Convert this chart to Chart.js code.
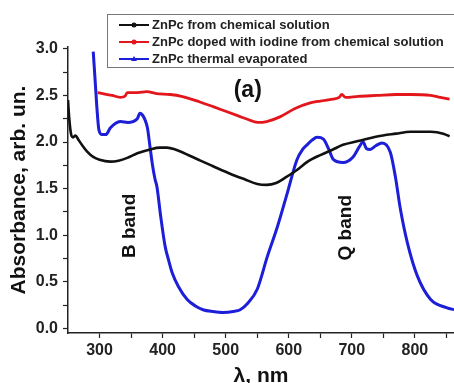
<!DOCTYPE html>
<html>
<head>
<meta charset="utf-8">
<script src="https://cdn.jsdelivr.net/npm/chart.js@4/dist/chart.umd.min.js"></script>
<style>
    html, body { margin: 0; padding: 0; background: #fff; }
    #wrap { width: 454px; height: 383px; position: relative; }
</style>
</head>
<body>
<div id="wrap"><canvas id="chart"></canvas></div>
<script>
// Series: wavelength (nm) and absorbance
const blackWl  = [250, 252, 255, 258, 262, 266, 272, 280, 290, 300, 317, 330, 344, 360, 380, 395, 407, 420, 444, 460, 480, 507, 530, 550, 565, 580, 595, 613, 630, 650, 670, 686, 710, 740, 770, 793, 825, 845, 855];
const blackAbs = [2.45, 2.25, 2.08, 2.05, 2.07, 2.03, 1.97, 1.9, 1.84, 1.81, 1.79, 1.80, 1.83, 1.88, 1.92, 1.94, 1.94, 1.92, 1.85, 1.80, 1.74, 1.66, 1.60, 1.55, 1.54, 1.56, 1.62, 1.70, 1.79, 1.86, 1.92, 1.97, 2.01, 2.06, 2.09, 2.11, 2.11, 2.09, 2.06];

const redWl  = [297, 305, 320, 333, 340, 344, 360, 375, 390, 412, 430, 459, 480, 500, 520, 540, 551, 565, 586, 610, 634, 650, 670, 680, 684, 690, 710, 740, 770, 793, 825, 840, 855];
const redAbs = [2.53, 2.52, 2.50, 2.48, 2.49, 2.53, 2.53, 2.54, 2.52, 2.51, 2.49, 2.43, 2.38, 2.33, 2.28, 2.23, 2.21, 2.22, 2.27, 2.36, 2.42, 2.44, 2.46, 2.48, 2.51, 2.48, 2.49, 2.50, 2.51, 2.51, 2.50, 2.48, 2.46];

const blueWl  = [290, 294, 296, 299, 304, 310, 317, 325, 333, 345, 353, 360, 364, 368, 372, 376, 380, 384, 388, 391, 397, 404, 410, 415, 425, 439, 452, 464, 480, 496, 512, 523, 535, 550, 566, 582, 598, 613, 622, 629, 637, 645, 655, 663, 671, 686, 702, 712, 718, 723, 729, 738, 748, 761, 769, 777, 788, 804, 825, 851, 862];
const blueAbs = [2.97, 2.56, 2.35, 2.13, 2.08, 2.08, 2.15, 2.2, 2.22, 2.21, 2.22, 2.25, 2.31, 2.29, 2.24, 2.15, 1.95, 1.75, 1.6, 1.52, 1.2, 0.88, 0.72, 0.6, 0.45, 0.31, 0.24, 0.2, 0.18, 0.17, 0.18, 0.2, 0.27, 0.42, 0.77, 1.09, 1.46, 1.81, 1.92, 1.97, 2.02, 2.05, 2.03, 1.93, 1.81, 1.78, 1.84, 1.95, 2.0, 1.93, 1.92, 1.96, 1.99, 1.89, 1.63, 1.28, 0.92, 0.56, 0.31, 0.22, 0.20];

const seriesNames = [
    'ZnPc from chemical solution',
    'ZnPc doped with iodine from chemical solution',
    'ZnPc thermal evaporated',
];
const seriesColors = ['#111111', '#e3161c', '#1c1ed8'];

const xTicks = [300, 350, 400, 450, 500, 550, 600, 650, 700, 750, 800, 850];
const yTicks = [0, 0.25, 0.5, 0.75, 1, 1.25, 1.5, 1.75, 2, 2.25, 2.5, 2.75, 3];

// Text labels placed in data coordinates: [text, wavelength, absorbance, rotated]
const notes = [
    ['(a)', 535, 2.55, false],
    ['B band', 348, 1.10, true],
    ['Q band', 691, 1.08, true],
];

const FONT = "'Liberation Sans', Arial, sans-serif";

function pairs(xs, ys) {
    return xs.map((x, i) => ({ x: x, y: ys[i] }));
}

// Legend box drawn inside the plot, top right (runs off the canvas like the original)
const boxLegend = {
    id: 'boxLegend',
    afterDraw(chart) {
        const ctx = chart.ctx;
        ctx.save();
        ctx.fillStyle = '#fff';
        ctx.fillRect(107, 14, 360, 53);
        ctx.strokeStyle = '#777';
        ctx.lineWidth = 1;
        ctx.strokeRect(107.5, 14.5, 360, 53);
        ctx.font = 'bold 13px ' + FONT;
        ctx.textBaseline = 'middle';
        chart.data.datasets.forEach((ds, i) => {
            const y = 25 + i * 17;
            ctx.strokeStyle = ds.borderColor;
            ctx.fillStyle = ds.borderColor;
            ctx.lineWidth = 2;
            ctx.beginPath();
            ctx.moveTo(119, y);
            ctx.lineTo(149, y);
            ctx.stroke();
            ctx.beginPath();
            if (i === 2) {
                ctx.moveTo(134, y - 3);
                ctx.lineTo(137, y + 2);
                ctx.lineTo(131, y + 2);
                ctx.closePath();
            } else {
                ctx.arc(134, y, 2.5, 0, Math.PI * 2);
            }
            ctx.fill();
            ctx.fillStyle = '#222';
            ctx.fillText(ds.label, 152, y + 0.5);
        });
        ctx.restore();
    }
};

const notesPlugin = {
    id: 'notes',
    afterDatasetsDraw(chart) {
        const ctx = chart.ctx;
        const xs = chart.scales.x, ys = chart.scales.y;
        ctx.save();
        ctx.fillStyle = '#111';
        ctx.textAlign = 'center';
        ctx.textBaseline = 'middle';
        notes.forEach(([text, wl, ab, rot]) => {
            const px = xs.getPixelForValue(wl);
            const py = ys.getPixelForValue(ab);
            ctx.save();
            ctx.translate(px, py);
            if (rot) {
                ctx.rotate(-Math.PI / 2);
                ctx.font = 'bold 19px ' + FONT;
            } else {
                ctx.font = 'bold 23px ' + FONT;
            }
            ctx.fillText(text, 0, 0);
            ctx.restore();
        });
        ctx.restore();
    }
};

const datasets = [
    { label: seriesNames[0], data: pairs(blackWl, blackAbs), borderColor: seriesColors[0], borderWidth: 2.6 },
    { label: seriesNames[1], data: pairs(redWl, redAbs), borderColor: seriesColors[1], borderWidth: 2.8 },
    { label: seriesNames[2], data: pairs(blueWl, blueAbs), borderColor: seriesColors[2], borderWidth: 3 },
].map(ds => Object.assign(ds, {
    pointRadius: 0,
    fill: false,
    cubicInterpolationMode: 'monotone',
}));

new Chart(document.getElementById('chart'), {
    type: 'line',
    data: { datasets: datasets },
    options: {
        responsive: true,
        maintainAspectRatio: false,
        animation: false,
        layout: { padding: { top: 47, right: 0, bottom: 0, left: 0 } },
        plugins: {
            legend: { display: false },
            tooltip: { enabled: false },
        },
        scales: {
            x: {
                type: 'linear',
                min: 250,
                max: 862,
                afterBuildTicks: (scale) => { scale.ticks = xTicks.map(v => ({ value: v })); },
                afterFit: (scale) => { scale.height = 50; },
                ticks: {
                    autoSkip: false,
                    maxRotation: 0,
                    padding: 3,
                    color: '#222',
                    font: { family: FONT, size: 16, weight: 'bold' },
                    callback: (v) => (v % 100 === 0 ? String(v) : ''),
                },
                grid: { drawOnChartArea: false, drawTicks: true, tickLength: 5, tickColor: '#222', tickWidth: 1.2 },
                border: { display: true, color: '#222', width: 1.5 },
                title: {
                    display: true,
                    text: 'λ, nm',
                    color: '#111',
                    font: { family: FONT, size: 21, weight: 'bold' },
                    padding: { top: 0, bottom: -6 },
                },
            },
            y: {
                type: 'linear',
                min: -0.05,
                max: 3.02,
                afterBuildTicks: (scale) => { scale.ticks = yTicks.map(v => ({ value: v })); },
                afterFit: (scale) => { scale.width = 68; },
                ticks: {
                    autoSkip: false,
                    padding: 5,
                    color: '#222',
                    font: { family: FONT, size: 16, weight: 'bold' },
                    callback: (v) => (Math.abs(v * 2 - Math.round(v * 2)) < 1e-6 ? v.toFixed(1) : ''),
                },
                grid: { drawOnChartArea: false, drawTicks: true, tickLength: 5, tickColor: '#222', tickWidth: 1.2 },
                border: { display: true, color: '#222', width: 1.5 },
                title: {
                    display: true,
                    text: 'Absorbance, arb. un.',
                    color: '#111',
                    font: { family: FONT, size: 21, weight: 'bold' },
                    padding: { top: 7, bottom: 0 },
                },
            },
        },
    },
    plugins: [notesPlugin, boxLegend],
});
</script>
</body>
</html>
